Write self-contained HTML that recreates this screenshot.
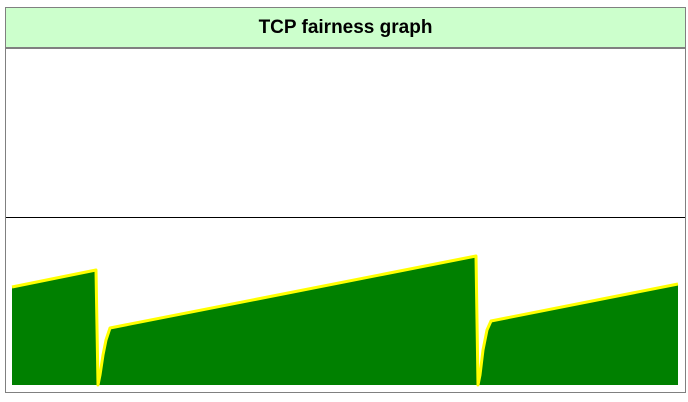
<!DOCTYPE html>
<html><head><meta charset="utf-8"><style>
body{margin:0;background:#fff;font-family:"Liberation Sans",sans-serif}
#box{position:absolute;left:5px;top:7px;width:679px;height:384px;border:1px solid #808080;}
#hdr{position:absolute;left:0;top:0;width:679px;height:39px;background:#ccffcc;border-bottom:2px solid #808080;text-align:center;font-weight:bold;font-size:19px;line-height:39px;color:#000}
svg{position:absolute;left:0;top:0}
</style></head><body>
<div id="box">
<div id="hdr">TCP fairness graph</div>
</div>
<svg width="688" height="402">
<line x1="6" y1="217.5" x2="685" y2="217.5" stroke="#000" stroke-width="1"/>
<path id="area" fill="#008000"/>
<path id="line" fill="none" stroke="#ffff00" stroke-width="3" stroke-linejoin="round"/>
</svg>
<script>
const times=[0,84,86,88,91,94,98,464,466,468,471,475,479,666];
const values=[98,115,0,10,30,45,57,129,0,10,35,55,64,101];
const x0=12,y0=385;
function sx(t){return x0+t;}
function sy(v){return y0-v;}
let d='';
times.forEach((t,i)=>{d+=(i?'L':'M')+sx(t)+','+sy(values[i]);});
document.getElementById('line').setAttribute('d',d);
document.getElementById('area').setAttribute('d',d+'L'+sx(times[times.length-1])+','+y0+'L'+sx(times[0])+','+y0+'Z');
</script>
</body></html>
